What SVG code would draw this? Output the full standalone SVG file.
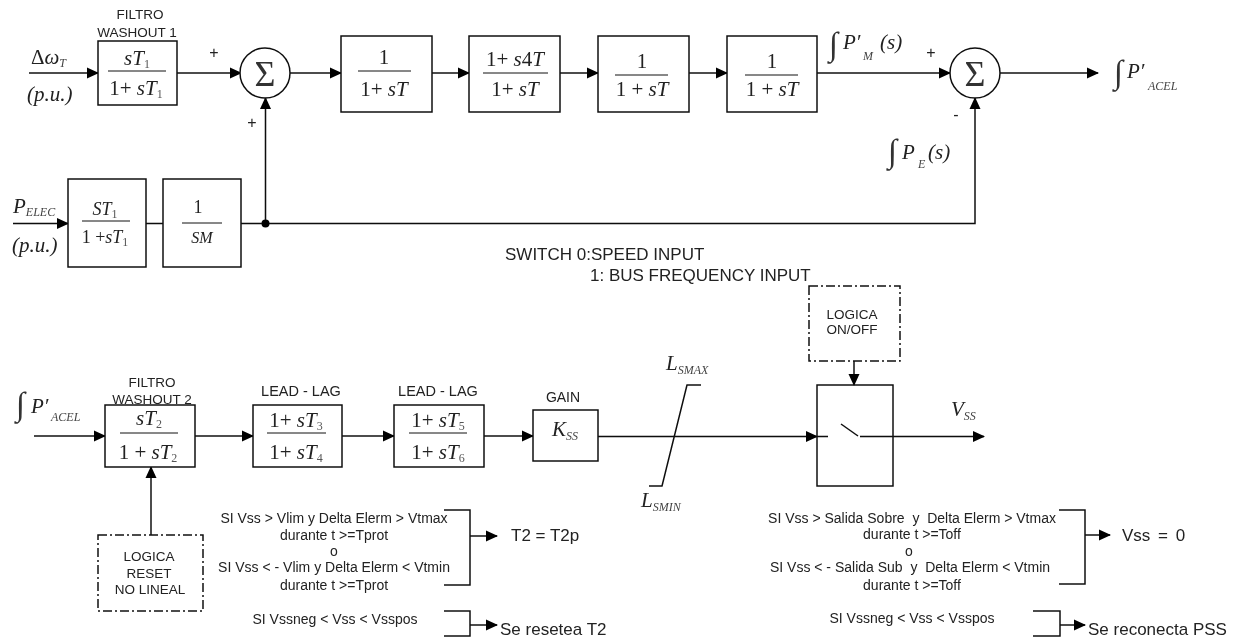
<svg xmlns="http://www.w3.org/2000/svg" width="1241" height="637" viewBox="0 0 1241 637">
<style>
svg>g{filter:url(#soft)}
text{fill:#222;font-family:"Liberation Sans",Arial,sans-serif;font-size:13.500px;text-anchor:middle;white-space:pre}
.m{font-family:"Liberation Serif","Times New Roman",serif;font-size:21px}
.i{font-style:italic}
.s{font-size:12px;font-family:"Liberation Serif","Times New Roman",serif;fill:#555;font-style:normal}
.si{font-size:12px;font-style:italic;font-family:"Liberation Serif","Times New Roman",serif;fill:#444}
.l{text-anchor:start}
.b{fill:#fff;stroke:#111;stroke-width:1.500}
.d{fill:#fff;stroke:#111;stroke-width:1.500;stroke-dasharray:9 3 2 3}
.f{stroke:#111;stroke-width:1;fill:none}
.c path{fill:none;stroke:#111;stroke-width:1.500}
.h{fill:#000}
.p{font-size:16px}
.g{font-size:36px;fill:#333}
.int{font-size:33px;font-family:"Liberation Serif","Times New Roman",serif;fill:#333}
.n{font-size:14px}
.w{font-size:17px}
.lb{font-size:14.500px}
</style>
<defs>
<filter id="soft" filterUnits="userSpaceOnUse" x="0" y="0" width="1241" height="637"><feGaussianBlur stdDeviation="0.350"/></filter>
<marker id="a" markerUnits="userSpaceOnUse" markerWidth="12" markerHeight="12" refX="11" refY="6" orient="auto"><path class="h" d="M0 0.500L12 6L0 11.500Z"/></marker>
</defs>
<g id="connectors" class="c">
<path d="M29 73H98" marker-end="url(#a)"/>
<path d="M177 73H241" marker-end="url(#a)"/>
<path d="M290 73H341" marker-end="url(#a)"/>
<path d="M432 73H469" marker-end="url(#a)"/>
<path d="M560 73H598" marker-end="url(#a)"/>
<path d="M689 73H727" marker-end="url(#a)"/>
<path d="M817 73H950" marker-end="url(#a)"/>
<path d="M1000 73H1098" marker-end="url(#a)"/>
<path d="M13 223.500H68" marker-end="url(#a)"/>
<path d="M146 223.500H163"/>
<path d="M241 223.500H975V98" marker-end="url(#a)"/>
<path d="M265.500 223.500V98" marker-end="url(#a)"/>
<circle cx="265.500" cy="223.500" r="4" class="h"/>
<path d="M34 436H105" marker-end="url(#a)"/>
<path d="M195 436H253" marker-end="url(#a)"/>
<path d="M341 436H394" marker-end="url(#a)"/>
<path d="M484 436H533" marker-end="url(#a)"/>
<path d="M598 436.500H817" marker-end="url(#a)"/>
<path d="M817 436.500H828"/>
<path d="M151 535V467" marker-end="url(#a)"/>
<path d="M854 361V385" marker-end="url(#a)"/>
<path d="M860 436.500H984" marker-end="url(#a)"/>
<path d="M841 424L858 436"/>
<path d="M444 510H470V585H444"/>
<path d="M470 536H497" marker-end="url(#a)"/>
<path d="M444 611H470V636H444"/>
<path d="M470 625H497" marker-end="url(#a)"/>
<path d="M1059 510H1085V584H1059"/>
<path d="M1085 535H1110" marker-end="url(#a)"/>
<path d="M1033 611H1060V636H1033"/>
<path d="M1060 625H1085" marker-end="url(#a)"/>
<path d="M701 385H687L662 486H649"/>
</g>
<g id="washout1"><rect class="b" x="98" y="41" width="79" height="64"/><path class="f" d="M108 71H166"/>
<text class="m i" x="137" y="65">sT<tspan class="s" dy="3">1</tspan></text><text class="m" x="136" y="95">1+<tspan class="i"> sT</tspan><tspan class="s" dy="3">1</tspan></text>
<text x="140" y="19">FILTRO</text><text x="137" y="37">WASHOUT 1</text></g>
<g id="sum1"><circle class="b" cx="265" cy="73" r="25"/><text class="m g" x="265" y="86">Σ</text><text class="p" x="214" y="58">+</text><text class="p" x="252" y="128">+</text></g>
<g id="lag1"><rect class="b" x="341" y="36" width="91" height="76"/><path class="f" d="M358 71H411"/><text class="m" x="384" y="64">1</text><text class="m" x="384" y="96">1+<tspan class="i"> sT</tspan></text></g>
<g id="lead"><rect class="b" x="469" y="36" width="91" height="76"/><path class="f" d="M483 73H548"/><text class="m" x="515" y="66">1+<tspan class="i"> s</tspan>4<tspan class="i">T</tspan></text><text class="m" x="515" y="96">1+<tspan class="i"> sT</tspan></text></g>
<g id="lag2"><rect class="b" x="598" y="36" width="91" height="76"/><path class="f" d="M615 75H668"/><text class="m" x="642" y="68">1</text><text class="m" x="642" y="96">1 +<tspan class="i"> sT</tspan></text></g>
<g id="lag3"><rect class="b" x="727" y="36" width="90" height="76"/><path class="f" d="M745 75H798"/><text class="m" x="772" y="68">1</text><text class="m" x="772" y="96">1 +<tspan class="i"> sT</tspan></text></g>
<g id="sum2"><circle class="b" cx="975" cy="73" r="25"/><text class="m g" x="975" y="86">Σ</text><text class="p" x="931" y="58">+</text><text class="p" x="956" y="120">-</text></g>
<g id="pelec"><rect class="b" x="68" y="179" width="78" height="88"/><path class="f" d="M82 221H130"/><text class="m i" x="105" y="215" style="font-size:18px">ST<tspan class="s" dy="3">1</tspan></text><text class="m" x="105" y="243" style="font-size:18px">1 +<tspan class="i">sT</tspan><tspan class="s" dy="3">1</tspan></text></g>
<g id="sm"><rect class="b" x="163" y="179" width="78" height="88"/><path class="f" d="M182 223H222"/><text class="m" x="198" y="213" style="font-size:18px">1</text><text class="m i" x="202" y="243" style="font-size:16px">SM</text></g>
<g id="labels-top">
<text class="m l" x="31" y="64">Δ<tspan class="i">ω</tspan><tspan class="si" dy="3">T</tspan></text>
<text class="m i l" x="27" y="101">(p.u.)</text>
<text class="m i l" x="13" y="213">P<tspan class="si" dy="3">ELEC</tspan></text>
<text class="m i l" x="12" y="252">(p.u.)</text>
<text class="int l" x="829" y="55">∫</text><text class="m i l" x="843" y="49">P′</text><text class="si l" x="863" y="60">M</text><text class="m i l" x="880" y="49">(s)</text>
<text class="int l" x="1114" y="83">∫</text><text class="m i l" x="1127" y="78">P′</text><text class="si l" x="1148" y="90">ACEL</text>
<text class="int l" x="888" y="162">∫</text><text class="m i l" x="902" y="159">P</text><text class="si l" x="918" y="168">E</text><text class="m i l" x="928" y="159">(s)</text>
<text class="l w" x="505" y="260">SWITCH 0:SPEED INPUT</text>
<text class="l w" x="590" y="281">1: BUS FREQUENCY INPUT</text>
</g>
<g id="input-acel"><text class="int l" x="16" y="415">∫</text><text class="m i l" x="31" y="413">P′</text><text class="si l" x="51" y="421">ACEL</text></g>
<g id="washout2"><rect class="b" x="105" y="405" width="90" height="62"/><path class="f" d="M120 433H178"/><text class="m i" x="149" y="425">sT<tspan class="s" dy="3">2</tspan></text><text class="m" x="148" y="459">1 +<tspan class="i"> sT</tspan><tspan class="s" dy="3">2</tspan></text>
<text x="152" y="387">FILTRO</text><text x="152" y="404">WASHOUT 2</text></g>
<g id="leadlag1"><rect class="b" x="253" y="405" width="89" height="62"/><path class="f" d="M267 433H326"/><text class="m" x="296" y="427">1+<tspan class="i"> sT</tspan><tspan class="s" dy="3">3</tspan></text><text class="m" x="296" y="459">1+<tspan class="i"> sT</tspan><tspan class="s" dy="3">4</tspan></text><text class="lb" x="301" y="396">LEAD - LAG</text></g>
<g id="leadlag2"><rect class="b" x="394" y="405" width="90" height="62"/><path class="f" d="M409 433H467"/><text class="m" x="438" y="427">1+<tspan class="i"> sT</tspan><tspan class="s" dy="3">5</tspan></text><text class="m" x="438" y="459">1+<tspan class="i"> sT</tspan><tspan class="s" dy="3">6</tspan></text><text class="lb" x="438" y="396">LEAD - LAG</text></g>
<g id="gain"><rect class="b" x="533" y="410" width="65" height="51"/><text class="m i" x="565" y="436">K<tspan class="si" dy="4">SS</tspan></text><text class="n" x="563" y="402">GAIN</text></g>
<g id="limits"><text class="m i l" x="666" y="370">L<tspan class="si" dy="4">SMAX</tspan></text><text class="m i l" x="641" y="507">L<tspan class="si" dy="4">SMIN</tspan></text></g>
<g id="switch"><rect x="817" y="385" width="76" height="101" fill="none" stroke="#111" stroke-width="1.500"/><text class="m i l" x="951" y="416">V<tspan class="si" dy="4">SS</tspan></text></g>
<g id="logica-onoff"><rect class="d" x="809" y="286" width="91" height="75"/><text x="852" y="319">LOGICA</text><text x="852" y="334">ON/OFF</text></g>
<g id="logica-reset"><rect class="d" x="98" y="535" width="105" height="76"/><text x="149" y="561">LOGICA</text><text x="149" y="578">RESET</text><text x="150" y="594">NO LINEAL</text></g>
<g id="cond-t2">
<text class="n" x="334" y="523">SI Vss &gt; Vlim y Delta Elerm &gt; Vtmax</text>
<text class="n" x="334" y="540">durante t &gt;=Tprot</text>
<text class="n" x="334" y="556">o</text>
<text class="n" x="334" y="572">SI Vss &lt; - Vlim y Delta Elerm &lt; Vtmin</text>
<text class="n" x="334" y="590">durante t &gt;=Tprot</text>
<text class="n" x="335" y="624">SI Vssneg &lt; Vss &lt; Vsspos</text>
<text class="l w" x="511" y="541">T2 = T2p</text>
<text class="l w" x="500" y="635">Se resetea T2</text>
</g>
<g id="cond-vss">
<text class="n" x="912" y="523">SI Vss &gt; Salida Sobre  y  Delta Elerm &gt; Vtmax</text>
<text class="n" x="912" y="539">durante t &gt;=Toff</text>
<text class="n" x="909" y="556">o</text>
<text class="n" x="910" y="572">SI Vss &lt; - Salida Sub  y  Delta Elerm &lt; Vtmin</text>
<text class="n" x="912" y="590">durante t &gt;=Toff</text>
<text class="n" x="912" y="623">SI Vssneg &lt; Vss &lt; Vsspos</text>
<text class="l w" x="1122" y="541" style="word-spacing:3px">Vss = 0</text>
<text class="l w" x="1088" y="635">Se reconecta PSS</text>
</g>
</svg>
